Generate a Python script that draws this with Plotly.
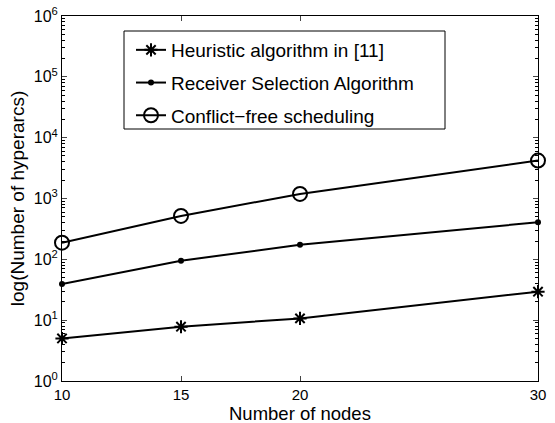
import plotly.graph_objects as go

nodes = [10, 15, 20, 30]
heuristic = [5.0, 7.8, 10.7, 29.4]
receiver = [39.4, 95, 173, 407]
conflict_free = [188, 517, 1190, 4200]

names = ["Heuristic algorithm in [11]", "Receiver Selection Algorithm", "Conflict\u2212free scheduling"]

y_major = [1, 10, 100, 1000, 10000, 100000, 1000000]
y_major_text = ["10<sup>%d</sup>" % i for i in range(7)]
y_minor = [m * 10 ** d for d in range(6) for m in range(2, 10)]
x_ticks = [10, 15, 20, 30]

fig = go.Figure()
fig.add_trace(go.Scatter(x=nodes, y=heuristic, name=names[0], mode="lines+markers",
                         legendgroup="a", cliponaxis=False,
                         line=dict(color="black", width=2),
                         marker=dict(symbol="asterisk-open", size=11, color="black",
                                     line=dict(color="black", width=2))))
fig.add_trace(go.Scatter(x=nodes, y=receiver, name=names[1], mode="lines+markers",
                         legendgroup="b", cliponaxis=False,
                         line=dict(color="black", width=2),
                         marker=dict(symbol="circle", size=6, color="black")))
fig.add_trace(go.Scatter(x=nodes, y=conflict_free, name=names[2], mode="lines+markers",
                         legendgroup="c", cliponaxis=False,
                         line=dict(color="black", width=2),
                         marker=dict(symbol="circle-open", size=14, color="black",
                                     line=dict(color="black", width=2))))

# legend box (drawn as a shape so its size matches)
fig.add_shape(type="rect", xref="paper", yref="paper",
              x0=(124 - 62) / 476, x1=(445 - 62) / 476,
              y0=1 - (129 - 16) / 365, y1=1 - (31 - 16) / 365,
              line=dict(color="black", width=1), fillcolor="white", layer="above")

# x-axis title as annotation (placed below tick labels)
fig.add_annotation(text="Number of nodes", xref="paper", yref="paper",
                   x=0.5, y=-(413 - 381) / 365, xanchor="center", yanchor="middle",
                   showarrow=False, font=dict(size=18.5))

fig.update_layout(
    width=555, height=423,
    margin=dict(l=62, r=17, t=16, b=42),
    paper_bgcolor="white", plot_bgcolor="white",
    font=dict(family="Liberation Sans, Arial, sans-serif", color="black", size=15),
    showlegend=True,
    legend=dict(x=(131 - 62) / 476, y=1 - (31 - 16) / 365, xanchor="left", yanchor="top",
                borderwidth=0, bgcolor="rgba(0,0,0,0)",
                font=dict(size=19), tracegroupgap=5, itemwidth=30),
)
fig.update_xaxes(range=[10, 30], tickvals=x_ticks, ticks="inside", ticklen=5,
                 showline=True, linecolor="black", linewidth=1, mirror="ticks",
                 showgrid=False, zeroline=False, automargin=False,
                 tickfont=dict(size=15))
fig.update_yaxes(type="log", range=[0, 6], tickvals=y_major, ticktext=y_major_text,
                 ticks="inside", ticklen=5, ticklabeloverflow="allow",
                 minor=dict(tickvals=y_minor, ticks="inside", ticklen=3, tickcolor="black"),
                 showline=True, linecolor="black", linewidth=1, mirror="ticks",
                 showgrid=False, zeroline=False, automargin=False,
                 title=dict(text="log(Number of hyperarcs)", font=dict(size=19), standoff=4),
                 tickfont=dict(size=16))

fig.write_html("out.html", config={"displayModeBar": False},
               post_script="document.body.style.margin='0px';")
